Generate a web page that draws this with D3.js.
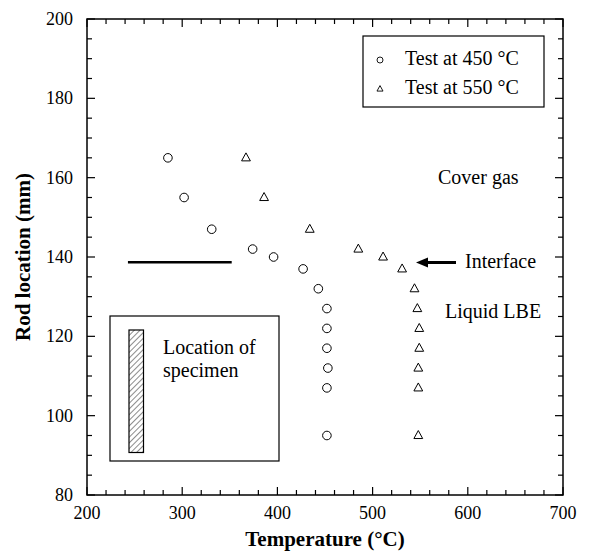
<!DOCTYPE html>
<html><head><meta charset="utf-8">
<script src="https://cdn.jsdelivr.net/npm/d3@7"></script>
<style>body{margin:0;background:#fff}svg{display:block}text{font-family:"Liberation Serif","Times New Roman",serif}</style>
</head><body>
<svg id="c" width="589" height="551"></svg>
<script>
// Data
const temp450 = [285, 302, 331, 374, 396, 427, 443, 452, 452, 452, 453, 452, 452];
const loc450  = [165, 155, 147, 142, 140, 137, 132, 127, 122, 117, 112, 107, 95];
const temp550 = [367, 386, 434, 485, 511, 531, 544, 547, 549, 549, 548, 548, 548];
const loc550  = [165, 155, 147, 142, 140, 137, 132, 127, 122, 117, 112, 107, 95];
const xTicks = [200, 300, 400, 500, 600, 700];
const yTicks = [80, 100, 120, 140, 160, 180, 200];
const legendLabels = ["Test at 450 °C", "Test at 550 °C"];
const interfaceLine = {x0: 243, x1: 352, y: 138.7};

const svg = d3.select("#c");
const L = 87, R = 563, T = 19, B = 495;
const x = d3.scaleLinear().domain([200, 700]).range([L, R]);
const y = d3.scaleLinear().domain([80, 200]).range([B, T]);

const defs = svg.append("defs");
const pat = defs.append("pattern").attr("id","hatch").attr("patternUnits","userSpaceOnUse")
  .attr("width",4).attr("height",4).attr("patternTransform","rotate(45)");
pat.append("line").attr("x1",0).attr("y1",0).attr("x2",0).attr("y2",4).attr("stroke","#000").attr("stroke-width",0.9);

// ticks
const xMinor = d3.range(200, 701, 20), yMinor = d3.range(80, 201, 5);
const g = svg.append("g").attr("stroke","#000").attr("stroke-width",1.2);
xMinor.forEach(v => {
  const len = v % 100 === 0 ? 8 : 5;
  g.append("line").attr("x1",x(v)).attr("x2",x(v)).attr("y1",B).attr("y2",B-len);
  g.append("line").attr("x1",x(v)).attr("x2",x(v)).attr("y1",T).attr("y2",T+len);
});
yMinor.forEach(v => {
  const len = v % 20 === 0 ? 8 : 5;
  g.append("line").attr("y1",y(v)).attr("y2",y(v)).attr("x1",L).attr("x2",L+len);
  g.append("line").attr("y1",y(v)).attr("y2",y(v)).attr("x1",R).attr("x2",R-len);
});
svg.append("rect").attr("x",L).attr("y",T).attr("width",R-L).attr("height",B-T)
  .attr("fill","none").attr("stroke","#000").attr("stroke-width",1.5);

// tick labels
svg.selectAll(".xl").data(xTicks).enter().append("text").attr("x",d=>x(d)).attr("y",519)
  .attr("text-anchor","middle").attr("font-size",18).text(d=>d);
svg.selectAll(".yl").data(yTicks).enter().append("text").attr("x",L-14).attr("y",d=>y(d)+6)
  .attr("text-anchor","end").attr("font-size",18).text(d=>d);

// axis titles
svg.append("text").attr("x",(L+R)/2).attr("y",546).attr("text-anchor","middle")
  .attr("font-size",21).attr("font-weight","bold").text("Temperature (°C)");
svg.append("text").attr("transform",`translate(30,${(T+B)/2}) rotate(-90)`).attr("text-anchor","middle")
  .attr("font-size",21).attr("font-weight","bold").text("Rod location (mm)");

// data markers
const triPath = s => `M0,${-s*0.62} L${s*0.55},${s*0.38} L${-s*0.55},${s*0.38} Z`;
svg.selectAll(".c450").data(temp450.map((t,i)=>[t,loc450[i]])).enter().append("circle")
  .attr("cx",d=>x(d[0])).attr("cy",d=>y(d[1])).attr("r",4.3)
  .attr("fill","none").attr("stroke","#000").attr("stroke-width",1);
svg.selectAll(".t550").data(temp550.map((t,i)=>[t,loc550[i]])).enter().append("path")
  .attr("transform",d=>`translate(${x(d[0])},${y(d[1])})`).attr("d",triPath(8))
  .attr("fill","none").attr("stroke","#000").attr("stroke-width",1);

// interface line
svg.append("line").attr("x1",x(interfaceLine.x0)).attr("x2",x(interfaceLine.x1))
  .attr("y1",y(interfaceLine.y)).attr("y2",y(interfaceLine.y)).attr("stroke","#000").attr("stroke-width",2.5);

// arrow
svg.append("line").attr("x1",456).attr("x2",425).attr("y1",262.5).attr("y2",262.5)
  .attr("stroke","#000").attr("stroke-width",3);
svg.append("path").attr("d","M416,262.5 L428,257.5 L428,267.5 Z").attr("fill","#000");
svg.append("text").attr("x",465).attr("y",267.5).attr("font-size",20).text("Interface");
svg.append("text").attr("x",438).attr("y",183.5).attr("font-size",20).text("Cover gas");
svg.append("text").attr("x",445).attr("y",317.5).attr("font-size",20).text("Liquid LBE");

// legend
svg.append("rect").attr("x",363).attr("y",36).attr("width",181).attr("height",71)
  .attr("fill","#fff").attr("stroke","#000").attr("stroke-width",1.2);
svg.append("circle").attr("cx",380).attr("cy",60).attr("r",3).attr("fill","none").attr("stroke","#000").attr("stroke-width",0.9);
svg.append("path").attr("transform","translate(380,89)").attr("d",triPath(5.5)).attr("fill","none").attr("stroke","#000").attr("stroke-width",0.9);
legendLabels.forEach((t,i)=>svg.append("text").attr("x",405).attr("y",65+i*28.5).attr("font-size",20).text(t));

// specimen box
svg.append("rect").attr("x",110).attr("y",316).attr("width",169).attr("height",145)
  .attr("fill","#fff").attr("stroke","#000").attr("stroke-width",1.2);
svg.append("rect").attr("x",129).attr("y",330).attr("width",14.5).attr("height",122.5)
  .attr("fill","url(#hatch)").attr("stroke","#000").attr("stroke-width",1.2);
svg.append("text").attr("x",163).attr("y",354).attr("font-size",20).text("Location of");
svg.append("text").attr("x",163).attr("y",377).attr("font-size",20).text("specimen");
</script>
</body></html>
